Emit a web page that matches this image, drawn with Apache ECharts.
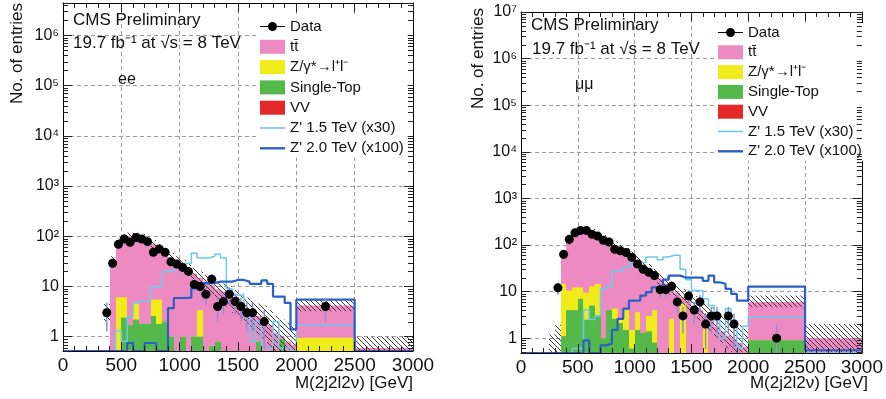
<!DOCTYPE html>
<html>
<head>
<meta charset="utf-8">
<title>M(2j2l2v) - ee and mumu</title>
<script src="https://cdn.jsdelivr.net/npm/echarts@6/dist/echarts.min.js"></script>
<style>
    html, body { margin: 0; padding: 0; background: #fff; }
    #zprime_mass { width: 886px; height: 399px; }
</style>
</head>
<body>
<div id="zprime_mass"></div>
<script>

// Chart data
// ------------------------------

// Bin edges [GeV]: 50 GeV bins up to 2000, then two wide bins
var binEdges = [250, 300, 350, 400, 450, 500, 550, 600, 650, 700, 750, 800, 850, 900, 950,
    1000, 1050, 1100, 1150, 1200, 1250, 1300, 1350, 1400, 1450, 1500, 1550, 1600, 1650,
    1700, 1750, 1800, 1850, 1900, 1950, 2000, 2500, 3000];

// Y tick labels, index = power of ten
var yTickLabels = ['1', '10', '10²', '10³', '10⁴', '10⁵', '10⁶', '10⁷'];

// ee channel
var eeData  = [0, 0, 3, 29, 69, 88, 76, 94, 88, 78, 48, 56, 48, 31, 28, 24, 20, 11, 10, 7,
    14, 4, 5, 7, 5, 4, 3, 3, 0, 2, 0, 0, 0, 0, 0, 4, 0];
var eeTt    = [0, 0, 0, 33, 69, 89, 98, 95, 93, 83, 64.5, 52.5, 46, 37, 31.8, 26, 21.8, 17, 11.6, 12.3,
    9.85, 8.0, 7.8, 6.8, 5.3, 4.3, 3.4, 2.8, 1.8, 2.0, 1.5, 1.2, 0.1, 0.8, 0.7, 3.25, 0.6];
var eeDy    = [0, 0, 0, 0, 5.9, 3.7, 0, 2.5, 0, 0, 2.9, 3.7, 0, 0, 0, 0, 0, 0, 2.4, 0,
    0, 0, 0, 0, 0, 0, 0, 0, 0, 0, 0, 0, 0, 0, 0, 0.95, 0];
var eeSt    = [0, 0, 0, 0, 0, 2.2, 1.5, 2.0, 1.6, 1.6, 2.4, 1.6, 1.8, 0.8, 0, 0.8, 0, 0.8, 0.8, 0,
    0.45, 0.6, 0, 0, 0, 0, 0, 0, 0.6, 0, 0, 0, 0.9, 0, 0, 0, 0];
var eeVv    = [0, 0, 0, 0.2, 0.2, 0.2, 0.2, 0.2, 0.2, 0.2, 0.2, 0.2, 0.2, 0.2, 0.2, 0.2, 0.2, 0.2, 0.2, 0.2,
    0.2, 0.2, 0.2, 0.2, 0.2, 0.2, 0.2, 0.2, 0.2, 0.2, 0.2, 0, 0, 0, 0, 0, 0];
var eeZ15   = [0, 0, 0, 0, 1.3, 0.8, 2.5, 4.7, 5.2, 5.2, 10, 10, 20, 20, 27, 29, 29, 46, 37, 37,
    40, 44, 37, 9, 6.8, 6.8, 2.5, 0.8, 2.0, 0.6, 0.6, 2.0, 0.6, 0.6, 0.5, 1.7, 0];
var eeZ20   = [0, 0, 0, 0, 0, 0, 0.75, 0, 0, 0.75, 0.75, 0, 0, 3.7, 5.9, 5.9, 6.0, 9.3, 11.7, 11.7,
    11.7, 12.5, 12.5, 12.5, 13.5, 13.5, 12.5, 11.3, 11.3, 13.2, 11.3, 6.3, 6.3, 4.7, 1.4, 5.5, 0];
var eeMcLo  = [0, 0, 2.0, 26, 62, 80, 85, 85, 80, 70, 57, 47, 38, 30, 25, 21, 16.5, 13, 10.5, 8.5,
    7, 5.5, 4.8, 4.0, 3.0, 2.4, 1.8, 1.4, 1.1, 0.9, 0.6, 0.5, 0.5, 0.5, 0.5, 3.2, 0.5];
var eeMcHi  = [0, 0, 4.5, 40, 90, 112, 118, 118, 112, 100, 84, 70, 58, 47, 40, 34, 28, 23.5, 20, 17,
    14.5, 12.5, 11.5, 10, 8.5, 7.2, 6, 5.2, 4.6, 4.2, 3.4, 2.6, 2.2, 1.9, 1.6, 5.5, 1.0];

// mumu channel
var mmData  = [0, 12, 63, 132, 182, 205, 205, 169, 155, 126, 116, 81, 75, 69, 54, 39, 30, 26, 22, 11,
    11, 13, 6, 3, 8, 4, 6, 2, 3, 3, 0, 3, 2, 0, 0, 1, 0];
var mmTt    = [0, 0, 45.4, 109.5, 157.7, 182.7, 190.5, 172, 145.4, 137, 114, 93.7, 79.5, 66, 56.5, 43.4, 36.7, 27, 20, 18.8,
    14.8, 9.4, 9.3, 2.1, 6.0, 4.8, 3.8, 1.6, 2.4, 1.6, 1.2, 1.15, 0.95, 0.8, 0.65, 5.1, 1.0];
var mmDy    = [0, 0, 13.5, 6.5, 8.3, 5.3, 7.0, 8.0, 11.5, 0, 0, 1.7, 0.4, 2.5, 0.9, 2.1, 0, 1.6, 3.2, 0,
    0, 2.4, 0, 5.3, 0, 0, 0, 1.4, 0, 0, 0, 0, 0, 0, 0, 0, 0];
var mmSt    = [0, 0, 0.9, 3.8, 3.8, 6.8, 2.3, 4.8, 2.9, 0.8, 3.8, 2.4, 1.9, 1.3, 0.4, 1.3, 1.1, 1.2, 0.6, 0,
    0, 0, 0, 0, 0, 0, 0, 0, 0, 0, 0, 0, 0, 0, 0, 0.9, 0];
var mmVv    = [0, 0, 0.2, 0.2, 0.2, 0.2, 0.2, 0.2, 0.2, 0.2, 0.2, 0.2, 0.2, 0.2, 0.2, 0.2, 0.2, 0.2, 0.2, 0.2,
    0.2, 0.2, 0.2, 0.2, 0.2, 0.2, 0.2, 0.2, 0.2, 0.2, 0.2, 0, 0, 0, 0, 0, 0];
var mmZ15   = [0, 0, 0, 0, 0.6, 0.6, 4.0, 2.5, 3.0, 11.4, 13, 28, 28, 33, 42, 33, 42, 55, 55, 48,
    55, 60, 60, 30, 18, 10.5, 10.5, 7, 5.0, 2.4, 1.0, 4.3, 2.4, 0.6, 1.8, 2.8, 0];
var mmZ20   = [0, 0, 0, 0, 0, 0, 0.9, 0, 0, 0.7, 0.77, 1.5, 2.6, 4.3, 6.4, 6.4, 8.2, 9.7, 12.3, 12.3,
    18, 22, 22, 20, 20, 20, 20, 17, 22, 15.8, 14.6, 11.4, 8.9, 6.4, 6.4, 12.8, 0.55];
var mmMcLo  = [0.5, 0.5, 50, 100, 145, 165, 170, 155, 135, 115, 98, 80, 67, 56, 46, 37, 29, 23, 18, 14,
    11, 8.5, 6.5, 5, 4, 3.1, 2.4, 1.8, 1.4, 1.0, 0.8, 0.6, 0.5, 0.5, 0.5, 4.6, 0.5];
var mmMcHi  = [1.2, 1.9, 75, 145, 205, 235, 240, 220, 190, 165, 140, 118, 100, 86, 72, 59, 48, 39, 31, 25,
    20.5, 17, 14, 11.5, 9.5, 8, 6.6, 5.5, 4.6, 3.8, 3.2, 2.7, 2.3, 1.9, 1.6, 8.2, 2.0];


// Setup module
// ------------------------------

var EchartsZprimeMass = function() {

    var FONT = '"Liberation Sans", Arial, Helvetica, sans-serif';
    var COLORS = {
        tt: '#ee8ac2',
        dy: '#f0ec1c',
        st: '#55b84b',
        vv: '#e42828',
        z15: '#6cc9ef',
        z20: '#2a60c6',
        err: '#8f8fd6',
        grid: '#9c9c9c',
        tick: '#222'
    };
    var NAMES = {
        data: 'Data',
        tt: 'tt\u0304',
        dy: 'Z/γ*→l⁺l⁻',
        st: 'Single-Top',
        vv: 'VV',
        z15: 'Z\' 1.5 TeV (x30)',
        z20: 'Z\' 2.0 TeV (x100)'
    };

    // Hatch pattern for the MC uncertainty band
    var makeHatch = function() {
        var c = document.createElement('canvas');
        c.width = 5;
        c.height = 5;
        var ctx = c.getContext('2d');
        ctx.strokeStyle = 'rgba(45,45,45,0.9)';
        ctx.lineWidth = 1;
        ctx.beginPath();
        ctx.moveTo(0, 0); ctx.lineTo(5, 5);
        ctx.moveTo(-1, 4); ctx.lineTo(1, 6);
        ctx.moveTo(4, -1); ctx.lineTo(6, 1);
        ctx.stroke();
        return { image: c, repeat: 'repeat' };
    };

    var logLabel = function(value) {
        var e = Math.log10(value);
        var r = Math.round(e);
        if (Math.abs(e - r) > 1e-6 || r < 0 || r >= yTickLabels.length) return '';
        return yTickLabels[r];
    };

    var cumulate = function(a, b) {
        return a.map(function(v, i) { return v + b[i]; });
    };

    var _zprimeMassExample = function() {
        if (typeof echarts == 'undefined') {
            console.warn('Warning - echarts.min.js is not loaded.');
            return;
        }

        var chart_element = document.getElementById('zprime_mass');
        if (!chart_element) return;

        var chart = echarts.init(chart_element);
        var hatch = makeHatch();

        var panels = [
            {
                label: 'ee', yMin: 0.52, yMax: 4.4e6,
                grid: { left: 63, top: 3, width: 350, height: 348 },
                data: eeData, tt: eeTt, dy: eeDy, st: eeSt, vv: eeVv,
                z15: eeZ15, z20: eeZ20, lo: eeMcLo, hi: eeMcHi
            },
            {
                label: 'μμ', yMin: 0.48, yMax: 1e7,
                grid: { left: 521, top: 12, width: 347, height: 341 },
                data: mmData, tt: mmTt, dy: mmDy, st: mmSt, vv: mmVv,
                z15: mmZ15, z20: mmZ20, lo: mmMcLo, hi: mmMcHi
            }
        ];

        var tickStyle = { color: COLORS.tick, width: 1 };
        var frameLine = { show: true, onZero: false, lineStyle: { color: '#000', width: 1 } };
        var dashed = { show: true, lineStyle: { color: COLORS.grid, width: 1, type: [4, 3] } };

        var grids = [], xAxes = [], yAxes = [], series = [];

        panels.forEach(function(p, k) {
            grids.push(p.grid);

            // Horizontal axes (bottom with labels, top as frame)
            xAxes.push({
                type: 'value', gridIndex: k, position: 'bottom', min: 0, max: 3000, interval: 500, z: 10,
                axisLine: frameLine,
                axisTick: { show: true, inside: true, length: 9, lineStyle: tickStyle },
                minorTick: { show: true, splitNumber: 5, length: 5, lineStyle: tickStyle },
                axisLabel: {
                    show: true, margin: 5, fontSize: 19, color: '#111', fontFamily: FONT,
                    formatter: function(v) { return String(v); }
                },
                splitLine: { show: false }
            });
            xAxes.push({
                type: 'value', gridIndex: k, position: 'top', min: 0, max: 3000, interval: 500, z: 1,
                axisLine: frameLine,
                axisTick: { show: true, inside: true, length: 9, lineStyle: tickStyle },
                minorTick: { show: true, splitNumber: 5, length: 5, lineStyle: tickStyle },
                axisLabel: { show: false },
                splitLine: dashed
            });

            // Vertical log axes (left with labels, right as frame)
            yAxes.push({
                type: 'log', logBase: 10, gridIndex: k, position: 'left', min: p.yMin, max: p.yMax, z: 10,
                axisLine: frameLine,
                axisTick: { show: true, inside: true, length: 9, lineStyle: tickStyle },
                minorTick: { show: false },
                axisLabel: { show: true, margin: 4, fontSize: 16, color: '#111', fontFamily: FONT, formatter: logLabel },
                splitLine: { show: false }
            });
            yAxes.push({
                type: 'log', logBase: 10, gridIndex: k, position: 'right', min: p.yMin, max: p.yMax, z: 1,
                axisLine: frameLine,
                axisTick: { show: true, inside: true, length: 9, lineStyle: tickStyle },
                minorTick: { show: false },
                axisLabel: { show: false },
                splitLine: dashed
            });

            var xi = 2 * k, yi = 2 * k;
            var yMin = p.yMin;

            // Stack tops: VV at the bottom, then single top, DY, ttbar
            var vvTop = p.vv.slice();
            var stTop = cumulate(vvTop, p.st);
            var dyTop = cumulate(stTop, p.dy);
            var ttTop = cumulate(dyTop, p.tt);

            var histSeries = function(name, color, tops, z) {
                var items = [];
                tops.forEach(function(v, i) {
                    if (v > yMin) items.push([binEdges[i], binEdges[i + 1], v]);
                });
                return {
                    name: name, type: 'custom', xAxisIndex: xi, yAxisIndex: yi, z: z, silent: true,
                    itemStyle: { color: color },
                    encode: { x: [0, 1], y: 2 },
                    renderItem: function(params, api) {
                        var cs = params.coordSys;
                        var a = api.coord([api.value(0), api.value(2)]);
                        var b = api.coord([api.value(1), api.value(2)]);
                        var x0 = Math.round(a[0]), x1 = Math.round(b[0]);
                        var top = Math.max(a[1], cs.y);
                        return {
                            type: 'rect',
                            shape: { x: x0, y: top, width: x1 - x0, height: cs.y + cs.height - top },
                            style: { fill: color }
                        };
                    },
                    data: items
                };
            };

            series.push(histSeries(NAMES.tt, COLORS.tt, ttTop, 2));
            series.push(histSeries(NAMES.dy, COLORS.dy, dyTop, 3));
            series.push(histSeries(NAMES.st, COLORS.st, stTop, 4));
            series.push(histSeries(NAMES.vv, COLORS.vv, vvTop, 5));

            // MC uncertainty band (hatched)
            var band = [];
            p.hi.forEach(function(h, i) {
                if (h > yMin) band.push([binEdges[i], binEdges[i + 1], p.lo[i], h]);
            });
            series.push({
                name: 'MC uncertainty', type: 'custom', xAxisIndex: xi, yAxisIndex: yi, z: 6, silent: true,
                encode: { x: [0, 1], y: [2, 3] },
                renderItem: function(params, api) {
                    var cs = params.coordSys;
                    var a = api.coord([api.value(0), api.value(3)]);
                    var b = api.coord([api.value(1), Math.max(api.value(2), yMin)]);
                    var x0 = Math.round(a[0]), x1 = Math.round(b[0]);
                    var top = Math.max(a[1], cs.y);
                    var bot = Math.min(b[1], cs.y + cs.height);
                    return {
                        type: 'rect',
                        shape: { x: x0, y: top, width: x1 - x0, height: bot - top },
                        style: { fill: hatch }
                    };
                },
                data: band
            });

            // Signal step lines
            var stepLine = function(vals) {
                var pts = [[0, yMin]];
                vals.forEach(function(v, i) { pts.push([binEdges[i], Math.max(v, yMin)]); });
                pts.push([binEdges[binEdges.length - 1], Math.max(vals[vals.length - 1], yMin)]);
                return pts;
            };
            series.push({
                name: NAMES.z15, type: 'line', xAxisIndex: xi, yAxisIndex: yi, z: 7, step: 'end',
                showSymbol: false, silent: true, animation: false,
                itemStyle: { color: COLORS.z15 },
                lineStyle: { color: COLORS.z15, width: 1.5 },
                data: stepLine(p.z15)
            });
            series.push({
                name: NAMES.z20, type: 'line', xAxisIndex: xi, yAxisIndex: yi, z: 8, step: 'end',
                showSymbol: false, silent: true, animation: false,
                itemStyle: { color: COLORS.z20 },
                lineStyle: { color: COLORS.z20, width: 2.2 },
                data: stepLine(p.z20)
            });

            // Data points with Poisson error bars
            var pts = [], errs = [];
            p.data.forEach(function(n, i) {
                if (n > 0) {
                    var xc = (binEdges[i] + binEdges[i + 1]) / 2;
                    pts.push([xc, n]);
                    errs.push([xc, n - Math.sqrt(n), n + Math.sqrt(n)]);
                }
            });
            series.push({
                name: 'Data error', type: 'custom', xAxisIndex: xi, yAxisIndex: yi, z: 9, silent: true,
                encode: { x: 0, y: [1, 2] },
                renderItem: function(params, api) {
                    var a = api.coord([api.value(0), api.value(2)]);
                    var b = api.coord([api.value(0), Math.max(api.value(1), yMin)]);
                    return {
                        type: 'line',
                        shape: { x1: a[0], y1: a[1], x2: b[0], y2: b[1] },
                        style: { stroke: COLORS.err, lineWidth: 1.5 }
                    };
                },
                data: errs
            });
            series.push({
                name: NAMES.data, type: 'scatter', xAxisIndex: xi, yAxisIndex: yi, z: 10,
                symbol: 'circle', symbolSize: 9, silent: true,
                itemStyle: { color: '#000', opacity: 1 },
                data: pts
            });

            // Log minor ticks on the left and right frame (2..9 x 10^n)
            var minor = [];
            for (var e = Math.floor(Math.log10(p.yMin)); e <= Math.ceil(Math.log10(p.yMax)); e++) {
                for (var m = 2; m <= 9; m++) {
                    var v = m * Math.pow(10, e);
                    if (v > p.yMin && v < p.yMax) minor.push([0, v]);
                }
            }
            series.push({
                name: 'minor ticks', type: 'custom', xAxisIndex: xi, yAxisIndex: yi, z: 11, silent: true,
                encode: { x: 0, y: 1 },
                renderItem: function(params, api) {
                    var cs = params.coordSys;
                    var y = Math.round(api.coord([0, api.value(1)])[1]) + 0.5;
                    var xl = cs.x, xr = cs.x + cs.width;
                    return {
                        type: 'group',
                        children: [
                            { type: 'line', shape: { x1: xl, y1: y, x2: xl + 5, y2: y }, style: { stroke: COLORS.tick, lineWidth: 1 } },
                            { type: 'line', shape: { x1: xr - 5, y1: y, x2: xr, y2: y }, style: { stroke: COLORS.tick, lineWidth: 1 } }
                        ]
                    };
                },
                data: minor
            });
        });

        // Legends
        var legendData = [
            { name: NAMES.data, icon: 'path://M0,6.4L25,6.4L25,7.6L0,7.6Z M17,7A4.5,4.5,0,1,1,8,7A4.5,4.5,0,1,1,17,7Z', itemStyle: { color: '#000' } },
            { name: NAMES.tt, icon: 'rect', itemStyle: { color: COLORS.tt } },
            { name: NAMES.dy, icon: 'rect', itemStyle: { color: COLORS.dy } },
            { name: NAMES.st, icon: 'rect', itemStyle: { color: COLORS.st } },
            { name: NAMES.vv, icon: 'rect', itemStyle: { color: COLORS.vv } },
            { name: NAMES.z15, icon: 'path://M0,0L25,0L25,1.6L0,1.6Z', itemStyle: { color: COLORS.z15 } },
            { name: NAMES.z20, icon: 'path://M0,0L25,0L25,2.4L0,2.4Z', itemStyle: { color: COLORS.z20 } }
        ];
        var legendBase = {
            orient: 'vertical', itemWidth: 25, itemHeight: 14, selectedMode: false,
            backgroundColor: '#fff', padding: [2, 4, 2, 2],
            textStyle: { fontSize: 15, lineHeight: 14, color: '#111', fontFamily: FONT },
            data: legendData
        };

        // Texts
        var txt = function(text, x, y, size, extra) {
            var el = {
                type: 'text', x: x, y: y, silent: true, z: 50,
                style: { text: text, fontSize: size, fontFamily: FONT, fill: '#111', align: 'left', verticalAlign: 'middle' }
            };
            if (extra) {
                for (var key in extra.style || {}) el.style[key] = extra.style[key];
                if (extra.rotation) el.rotation = extra.rotation;
            }
            return el;
        };
        var graphics = [
            txt('CMS Preliminary', 73, 20, 17),
            txt('19.7 fb⁻¹ at √s = 8 TeV', 73, 43, 17),
            txt('ee', 118, 80, 16),
            txt('CMS Preliminary', 531, 25, 17),
            txt('19.7 fb⁻¹ at √s = 8 TeV', 532, 49, 17),
            txt('μμ', 575, 85, 16),
            txt('No. of entries', 17, 3, 17, { rotation: Math.PI / 2, style: { align: 'right' } }),
            txt('No. of entries', 478, 8, 17, { rotation: Math.PI / 2, style: { align: 'right' } }),
            txt('M(2j2l2ν) [GeV]', 413, 383, 17, { style: { align: 'right' } }),
            txt('M(2j2l2ν) [GeV]', 868, 383, 17, { style: { align: 'right' } })
        ];

        chart.setOption({
            animation: false,
            backgroundColor: '#fff',
            textStyle: { fontFamily: FONT },
            grid: grids,
            xAxis: xAxes,
            yAxis: yAxes,
            legend: [
                Object.assign({}, legendBase, { left: 258, top: 17, itemGap: 5.3 }),
                Object.assign({}, legendBase, { left: 716, top: 23, itemGap: 4.8 })
            ],
            graphic: graphics,
            series: series
        });

        // Resize
        window.addEventListener('resize', function() {
            chart.resize();
        });
    };

    return {
        init: function() {
            _zprimeMassExample();
        }
    };
}();


// Initialize module
// ------------------------------

document.addEventListener('DOMContentLoaded', function() {
    EchartsZprimeMass.init();
});
</script>
</body>
</html>
